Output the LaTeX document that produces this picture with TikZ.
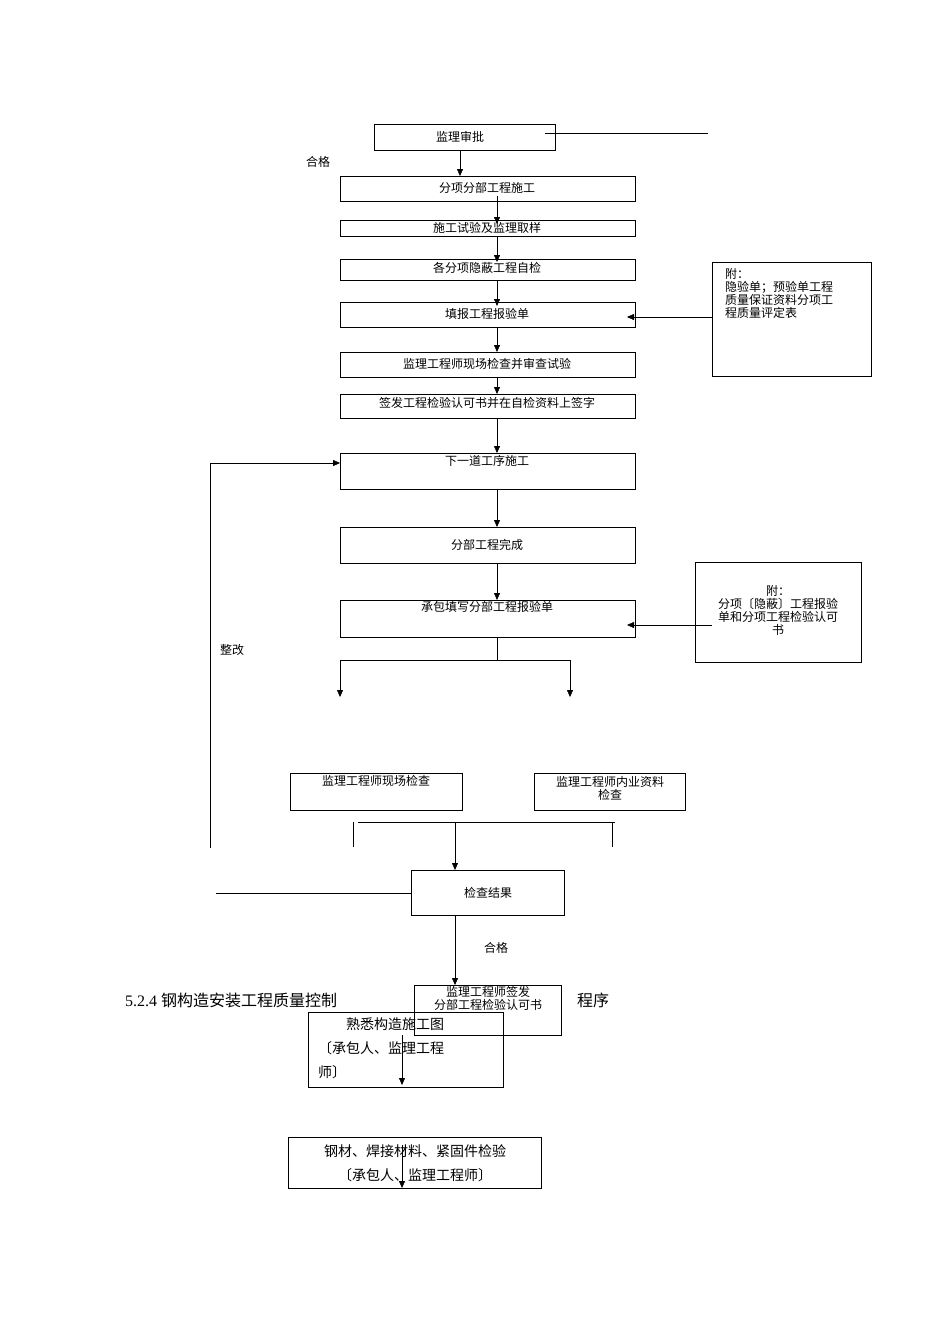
\documentclass[tikz,border=0pt]{standalone}
\usepackage{fontspec}
\setmainfont{Liberation Serif}
\newfontfamily\cjk{Noto Sans CJK SC}
\usetikzlibrary{arrows.meta}
\tikzset{
  box/.style={draw, thin},
  lbl/.style={font=\cjk\fontsize{12}{13}\selectfont, inner sep=0pt},
  arr/.style={-{Triangle[length=7pt,width=6pt]}, thin}
}
\begin{document}
\begin{tikzpicture}[x=1pt,y=-1pt]
		\useasboundingbox (0,0) rectangle (950,1344);
		
		% main column
		\draw[box] (374,124) rectangle (555,150);
		\draw[box] (340,176) rectangle (635,201);
		\draw[box] (340,220) rectangle (635,236);
		\draw[box] (340,259) rectangle (635,280);
		\draw[box] (340,302) rectangle (635,327);
		\draw[box] (340,352) rectangle (635,377);
		\draw[box] (340,394) rectangle (635,418);
		\draw[box] (340,453) rectangle (635,489);
		\draw[box] (340,527) rectangle (635,563);
		\draw[box] (340,600) rectangle (635,637);
		\draw[box] (712,262) rectangle (871,376);
		\draw[box] (695,562) rectangle (861,662);
		
		\node[lbl] (approve) at (460,137) {监理审批};
		\node[lbl] (ok1) at (318,162) {合格};
		\node[lbl] (build) at (487,188) {分项分部工程施工};
		\node[lbl] (test) at (487,228) {施工试验及监理取样};
		\node[lbl] (self) at (487,268) {各分项隐蔽工程自检};
		\node[lbl] (form) at (487,314) {填报工程报验单};
		\node[lbl] (site) at (487,364) {监理工程师现场检查并审查试验};
		\node[lbl] (sign) at (487,403) {签发工程检验认可书并在自检资料上签字};
		\node[lbl] (next) at (487,461) {下一道工序施工};
		\node[lbl] (done) at (487,545) {分部工程完成};
		\node[lbl] (report) at (487,607) {承包填写分部工程报验单};
		\node[lbl, align=left, anchor=north west] (att1) at (725,268) {附：\\隐验单；预验单工程\\质量保证资料分项工\\程质量评定表};
		\node[lbl, align=center] (att2) at (778,610) {附：\\分项〔隐蔽〕工程报验\\单和分项工程检验认可\\书};
		
		\draw (545,133) -- (708,133);
		\draw[arr] (460,150) -- (460,176);
		\draw[arr] (497,196) -- (497,224);
		\draw[arr] (497,236) -- (497,262);
		\draw[arr] (497,280) -- (497,306);
		\draw[arr] (497,327) -- (497,352);
		\draw[arr] (497,377) -- (497,394);
		\draw[arr] (497,418) -- (497,453);
		\draw[arr] (497,489) -- (497,527);
		\draw[arr] (497,563) -- (497,600);
		\draw[arr] (712,317) -- (627,317);
		\draw[arr] (712,625) -- (627,625);
		
		% split
		\draw (497,637) -- (497,660);
		\draw (340,660) -- (570,660);
		\draw[arr] (340,660) -- (340,697);
		\draw[arr] (570,660) -- (570,697);
		
		\draw[box] (290,773) rectangle (462,810);
		\draw[box] (534,773) rectangle (685,810);
		\node[lbl] (field) at (376,781) {监理工程师现场检查};
		\node[lbl, align=center] (docs) at (610,788) {监理工程师内业资料\\检查};
		
		\draw (358,822) -- (615,822);
		\draw (353,822) -- (353,847);
		\draw (612,822) -- (612,847);
		\draw[arr] (455,822) -- (455,870);
		
		\draw[box] (411,870) rectangle (564,915);
		\node[lbl] (result) at (488,893) {检查结果};
		\draw (216,893) -- (411,893);
		\draw[arr] (210,848) -- (210,463) -- (340,463);
		\node[lbl] (fix) at (232,650) {整改};
		\node[lbl] (ok2) at (496,948) {合格};
		\draw[arr] (455,915) -- (455,985);
		
		\draw[box] (414,985) rectangle (561,1035);
		\node[lbl, align=center] (cert) at (488,998) {监理工程师签发\\分部工程检验认可书};
		
		% section heading
		\node[anchor=west, inner sep=0pt, font=\fontsize{16}{18}\selectfont] (head) at (125,1000) {5.2.4 {\cjk 钢构造安装工程质量控制}};
		\node[anchor=west, inner sep=0pt, font=\cjk\fontsize{16}{18}\selectfont] (head2) at (577,1000) {程序};
		
		\draw[box] (308,1012) rectangle (503,1087);
		\node[lbl, font=\cjk\fontsize{14}{24}\selectfont, align=left, anchor=north west] (drw) at (318,1017) {\hspace*{28pt}熟悉构造施工图\\〔承包人、监理工程\\师〕};
		\draw[arr] (402,1035) -- (402,1085);
		
		\draw[box] (288,1137) rectangle (541,1188);
		\node[lbl, font=\cjk\fontsize{14}{24}\selectfont, align=center] (mat) at (415,1163) {钢材、焊接材料、紧固件检验\\〔承包人、监理工程师〕};
		\draw[arr] (402,1145) -- (402,1188);
		\end{tikzpicture}
\end{document}
